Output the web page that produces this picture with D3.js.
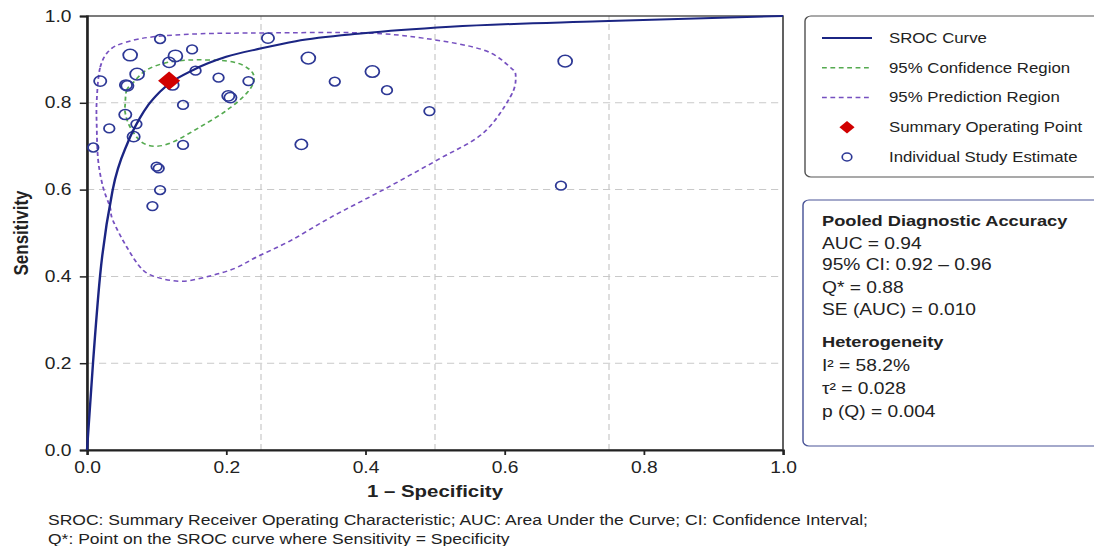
<!DOCTYPE html>
<html>
<head>
<meta charset="utf-8">
<script src="https://cdn.jsdelivr.net/npm/d3@7"></script>
<style>
body { margin: 0; background: #fff; }
text { font-family: "Liberation Sans", Arial, sans-serif; fill: #222; }
</style>
</head>
<body>
<div id="chart"></div>
<script>
// individual studies (1 - specificity, sensitivity, relative weight)
var studyFpr  = [0.105, 0.062, 0.019, 0.072, 0.056, 0.058, 0.118, 0.127, 0.151, 0.156, 0.123, 0.189,
                 0.232, 0.203, 0.206, 0.138, 0.055, 0.071, 0.032, 0.067, 0.009, 0.138, 0.100, 0.103,
                 0.105, 0.094, 0.260, 0.318, 0.356, 0.410, 0.431, 0.492, 0.308, 0.687, 0.681];
var studySens = [0.947, 0.910, 0.850, 0.866, 0.841, 0.839, 0.893, 0.908, 0.923, 0.874, 0.841, 0.858,
                 0.850, 0.816, 0.812, 0.795, 0.773, 0.751, 0.741, 0.722, 0.697, 0.703, 0.653, 0.649,
                 0.599, 0.562, 0.949, 0.903, 0.849, 0.872, 0.829, 0.781, 0.704, 0.896, 0.609];
var studyWeight = [1, 3, 2, 3, 2, 2, 2, 3, 1, 1, 2, 1,
                   1, 2, 2, 1, 2, 1, 1, 2, 1, 1, 1, 1,
                   1, 1, 2, 3, 1, 3, 1, 1, 2, 3, 1];

// SROC curve
var srocFpr  = [0, 0.0086, 0.0187, 0.037, 0.059, 0.076, 0.088, 0.105, 0.153, 0.2, 0.249, 0.3, 0.397, 0.522, 0.737, 1.0];
var srocSens = [0, 0.2, 0.4, 0.6, 0.71, 0.765, 0.795, 0.826, 0.876, 0.906, 0.925, 0.942, 0.960, 0.975, 0.988, 1.0];

// 95% confidence region
var confFpr  = [0.055, 0.057, 0.066, 0.086, 0.119, 0.162, 0.210, 0.234, 0.240, 0.230, 0.201, 0.162, 0.124, 0.099, 0.078, 0.062, 0.055];
var confSens = [0.800, 0.829, 0.846, 0.876, 0.894, 0.899, 0.894, 0.876, 0.853, 0.823, 0.783, 0.744, 0.710, 0.700, 0.710, 0.744, 0.776];

// 95% prediction region
var predFpr  = [0.014, 0.019, 0.033, 0.057, 0.095, 0.162, 0.259, 0.397, 0.483, 0.569, 0.608, 0.616, 0.608, 0.569, 0.503,
                0.425, 0.349, 0.292, 0.244, 0.213, 0.177, 0.138, 0.105, 0.080, 0.057, 0.037, 0.033, 0.023, 0.016, 0.014];
var predSens = [0.806, 0.882, 0.922, 0.940, 0.952, 0.959, 0.961, 0.961, 0.949, 0.922, 0.882, 0.859, 0.813, 0.730, 0.668,
                0.599, 0.535, 0.482, 0.445, 0.419, 0.401, 0.389, 0.396, 0.415, 0.468, 0.530, 0.560, 0.606, 0.668, 0.744];

var summaryPoint = [0.118, 0.851];

var xTicks = [0, 0.2, 0.4, 0.6, 0.8, 1.0];
var yTicks = [0, 0.2, 0.4, 0.6, 0.8, 1.0];
var gridX = [0.25, 0.5, 0.75];
var gridY = [0.2, 0.4, 0.6, 0.8];

var legendLabels = ["SROC Curve", "95% Confidence Region", "95% Prediction Region",
                    "Summary Operating Point", "Individual Study Estimate"];

var statsTitles = ["Pooled Diagnostic Accuracy", "Heterogeneity"];
var statsPooled = ["AUC = 0.94", "95% CI: 0.92 \u2013 0.96", "Q* = 0.88", "SE (AUC) = 0.010"];
var statsHet = ["I\u00b2 = 58.2%", "\u03c4\u00b2 = 0.028", "p (Q) = 0.004"];

var footnotes = ["SROC: Summary Receiver Operating Characteristic; AUC: Area Under the Curve; CI: Confidence Interval;",
                 "Q*:  Point on the SROC curve where Sensitivity = Specificity"];

//////////////////////////////////////////////////////////////
// the picture is stretched sideways, so draw in a narrower box and stretch it out
var SX = 1.2,
    W = 1094 / SX,
    H = 546;

var navy = "#1b2583", green = "#55aa50", purple = "#7650c0", red = "#d10000", ring = "#2d3895";

var svg = d3.select("#chart").append("svg")
    .attr("width", 1094)
    .attr("height", H)
    .attr("viewBox", "0 0 " + W + " " + H)
    .attr("preserveAspectRatio", "none");

var x = d3.scaleLinear().domain([0, 1]).range([87 / SX, 783 / SX]);
var y = d3.scaleLinear().domain([0, 1]).range([450, 16]);
var r = d3.scaleLinear().domain([1, 3]).range([4.4, 5.8]);

// grid
svg.append("g").selectAll("line").data(gridY).enter().append("line")
    .attr("x1", x(0)).attr("x2", x(1))
    .attr("y1", function (d) { return y(d); }).attr("y2", function (d) { return y(d); })
    .attr("stroke", "#c9c9c9").attr("stroke-dasharray", "6,4");
svg.append("g").selectAll("line").data(gridX).enter().append("line")
    .attr("x1", function (d) { return x(d); }).attr("x2", function (d) { return x(d); })
    .attr("y1", y(0)).attr("y2", y(1))
    .attr("stroke", "#c9c9c9").attr("stroke-dasharray", "6,4");

// frame
svg.append("rect")
    .attr("x", x(0)).attr("y", y(1))
    .attr("width", x(1) - x(0)).attr("height", y(0) - y(1))
    .attr("fill", "none").attr("stroke", "#444").attr("stroke-width", 1.4);

// axes
var xAxis = svg.append("g")
    .attr("transform", "translate(0," + y(0) + ")")
    .call(d3.axisBottom(x).tickValues(xTicks).tickFormat(d3.format(".1f")).tickSize(5).tickPadding(7));
var yAxis = svg.append("g")
    .attr("transform", "translate(" + x(0) + ",0)")
    .call(d3.axisLeft(y).tickValues(yTicks).tickFormat(d3.format(".1f")).tickSize(6).tickPadding(7));
[xAxis, yAxis].forEach(function (a) {
    a.select(".domain").attr("stroke", "#222").attr("stroke-width", 2);
    a.selectAll(".tick line").attr("stroke", "#222").attr("stroke-width", 1.5);
    a.selectAll(".tick text").attr("font-size", 16).attr("font-family", "Liberation Sans, Arial, sans-serif").attr("fill", "#222");
});

svg.append("text")
    .attr("x", (x(0) + x(1)) / 2).attr("y", 497)
    .attr("text-anchor", "middle").attr("font-size", 17).attr("font-weight", "bold")
    .text("1 \u2013 Specificity");
svg.append("text")
    .attr("transform", "translate(" + (28 / SX) + "," + ((y(0) + y(1)) / 2) + ") rotate(-90)")
    .attr("text-anchor", "middle").attr("font-size", 17).attr("font-weight", "bold")
    .text("Sensitivity");

// regions
var regionLine = d3.line().curve(d3.curveCardinalClosed.tension(0))
    .x(function (d) { return x(d[0]); }).y(function (d) { return y(d[1]); });

svg.append("path")
    .attr("d", regionLine(d3.zip(predFpr, predSens)))
    .attr("fill", "none").attr("stroke", purple).attr("stroke-width", 1.5).attr("stroke-dasharray", "4,3");
svg.append("path")
    .attr("d", regionLine(d3.zip(confFpr, confSens)))
    .attr("fill", "none").attr("stroke", green).attr("stroke-width", 1.5).attr("stroke-dasharray", "4,3");

// studies
svg.append("g").selectAll("circle")
    .data(d3.range(studyFpr.length)).enter().append("circle")
    .attr("cx", function (i) { return x(studyFpr[i]); })
    .attr("cy", function (i) { return y(studySens[i]); })
    .attr("r", function (i) { return r(studyWeight[i]); })
    .attr("fill", "none").attr("stroke", ring).attr("stroke-width", 1.5);

// SROC curve
var srocLine = d3.line().curve(d3.curveMonotoneX)
    .x(function (d) { return x(d[0]); }).y(function (d) { return y(d[1]); });
svg.append("path")
    .attr("d", srocLine(d3.zip(srocFpr, srocSens)))
    .attr("fill", "none").attr("stroke", navy).attr("stroke-width", 2);

// summary point
var diamond = d3.symbol().type(d3.symbolSquare).size(170);
svg.append("path")
    .attr("d", diamond)
    .attr("transform", "translate(" + x(summaryPoint[0]) + "," + y(summaryPoint[1]) + ") rotate(45)")
    .attr("fill", red);

// legend
var lg = svg.append("g");
lg.append("rect")
    .attr("x", 805 / SX).attr("y", 16).attr("width", 300).attr("height", 161)
    .attr("rx", 5).attr("fill", "#fff").attr("stroke", "#555").attr("stroke-width", 1.2);
var rowY = d3.scalePoint().domain(legendLabels).range([38, 157]);
var lx1 = 822 / SX, lx2 = 872 / SX, lxm = (lx1 + lx2) / 2;
lg.append("line").attr("x1", lx1).attr("x2", lx2).attr("y1", rowY(legendLabels[0])).attr("y2", rowY(legendLabels[0]))
    .attr("stroke", navy).attr("stroke-width", 2);
lg.append("line").attr("x1", lx1).attr("x2", lx2).attr("y1", rowY(legendLabels[1])).attr("y2", rowY(legendLabels[1]))
    .attr("stroke", green).attr("stroke-width", 1.6).attr("stroke-dasharray", "4,3");
lg.append("line").attr("x1", lx1).attr("x2", lx2).attr("y1", rowY(legendLabels[2])).attr("y2", rowY(legendLabels[2]))
    .attr("stroke", purple).attr("stroke-width", 1.6).attr("stroke-dasharray", "4,3");
lg.append("path").attr("d", d3.symbol().type(d3.symbolSquare).size(80))
    .attr("transform", "translate(" + lxm + "," + rowY(legendLabels[3]) + ") rotate(45)")
    .attr("fill", red);
lg.append("circle").attr("cx", lxm).attr("cy", rowY(legendLabels[4])).attr("r", 4)
    .attr("fill", "none").attr("stroke", ring).attr("stroke-width", 1.4);
lg.selectAll("text.lab").data(legendLabels).enter().append("text")
    .attr("x", 889 / SX).attr("y", function (d) { return rowY(d) + 5; })
    .attr("font-size", 14).attr("font-family", "Lato, sans-serif").attr("fill", "#222")
    .text(function (d) { return d; });

// stats box
var sb = svg.append("g");
sb.append("rect")
    .attr("x", 803 / SX).attr("y", 200).attr("width", 300).attr("height", 246)
    .attr("rx", 5).attr("fill", "#fff").attr("stroke", "#4a5598").attr("stroke-width", 1.2);
var tx = 822 / SX;
sb.append("text").attr("x", tx).attr("y", 226).attr("font-size", 15.2).attr("font-weight", "bold").text(statsTitles[0]);
sb.selectAll("text.p").data(statsPooled).enter().append("text")
    .attr("x", tx).attr("y", function (d, i) { return [249, 270, 293, 315][i]; })
    .attr("font-size", 16).text(function (d) { return d; });
sb.append("text").attr("x", tx).attr("y", 347).attr("font-size", 15.2).attr("font-weight", "bold").text(statsTitles[1]);
sb.selectAll("text.h").data(statsHet).enter().append("text")
    .attr("x", tx).attr("y", function (d, i) { return 371 + i * 23; })
    .attr("font-size", 16).text(function (d) { return d; });

// footnote
svg.selectAll("text.fn").data(footnotes).enter().append("text")
    .attr("x", 48 / SX).attr("y", function (d, i) { return 525 + i * 19; })
    .attr("font-size", 14.6).attr("fill", "#222")
    .text(function (d) { return d; });
</script>
</body>
</html>
